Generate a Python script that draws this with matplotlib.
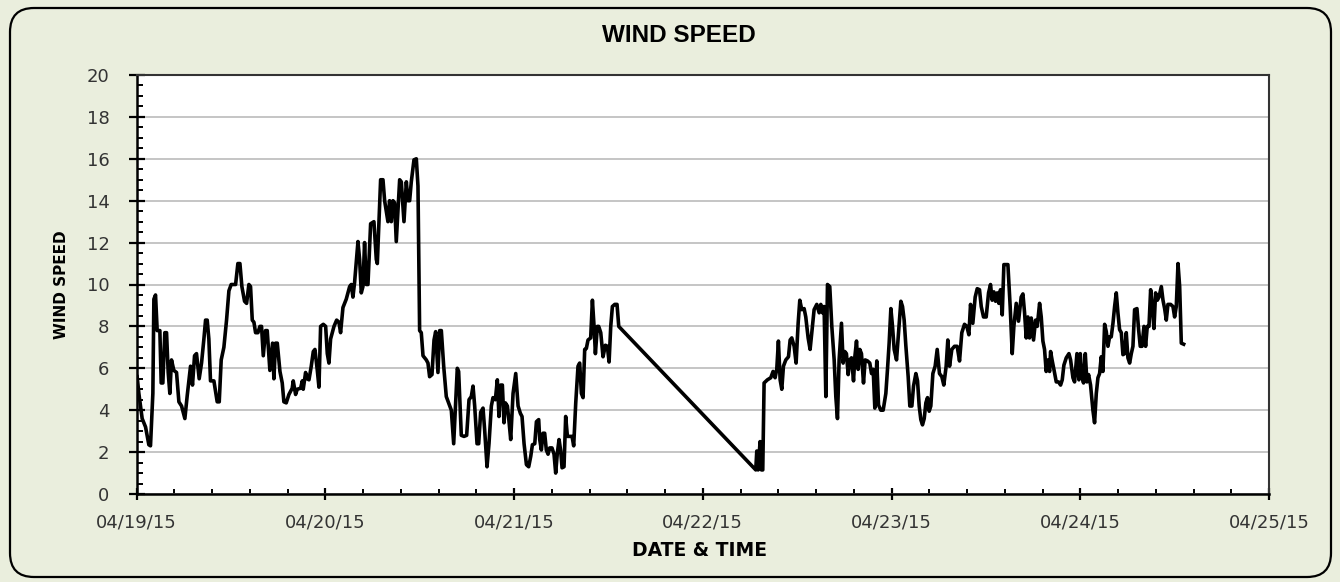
import numpy as np
import pandas as pd
import matplotlib
matplotlib.use("Agg")
import matplotlib.pyplot as plt
import matplotlib.dates as mdates
from matplotlib.ticker import MultipleLocator
from matplotlib.patches import FancyBboxPatch
from matplotlib.transforms import IdentityTransform

# hours after 04/19/15 00:00 and wind speed
hours = [
    0.08, 0.30, 0.72, 1.15, 1.57, 1.78, 2.08, 2.21, 2.42, 2.63, 2.97, 3.14, 3.35, 3.60, 3.82,
    4.03, 4.24, 4.45, 4.75, 5.09, 5.39, 5.73, 6.15, 6.45, 6.87, 7.12, 7.38, 7.63, 7.97, 8.27,
    8.57, 8.78, 8.99, 9.20, 9.41, 9.84, 10.26, 10.52, 10.77, 11.11, 11.45, 11.75, 12.04, 12.60,
    12.89, 13.15, 13.40, 13.74, 14.00, 14.29, 14.50, 14.72, 14.93, 15.14, 15.44, 15.69, 15.90,
    16.12, 16.41, 16.62, 16.96, 17.30, 17.47, 17.68, 17.90, 18.24, 18.53, 18.74, 19.04, 19.38,
    19.80, 19.93, 20.23, 20.44, 20.87, 21.08, 21.20, 21.50, 21.71, 21.93, 22.22, 22.48, 22.69,
    22.99, 23.20, 23.41, 23.75, 24.05, 24.26, 24.47, 24.68, 25.11, 25.45, 25.74, 25.95,
    26.25, 26.67, 27.10, 27.31, 27.52, 27.73, 28.16, 28.37, 28.58, 28.79, 29.00, 29.22, 29.43,
    29.77, 30.19, 30.49, 30.62, 31.04, 31.34, 31.55, 31.97, 32.18, 32.40, 32.61, 32.82, 33.03,
    33.46, 33.67, 34.01, 34.31, 34.52, 34.73, 34.94, 35.28, 35.58, 35.79, 36.00, 36.21, 36.43,
    36.85, 37.06, 37.27, 37.57, 37.83, 38.04, 38.33, 38.55, 38.76, 39.06, 39.39, 39.69, 40.03,
    40.33, 40.54, 40.79, 40.96, 41.30, 41.64, 41.98, 42.28, 42.57, 42.79, 43.00, 43.30, 43.51,
    43.76, 44.06, 44.27, 44.57, 44.82, 45.12, 45.33, 45.63, 45.88, 46.09, 46.31, 46.52, 46.73,
    46.90, 47.16, 47.37, 47.58, 47.88, 48.22, 48.52, 48.81, 49.02, 49.28, 49.58, 49.87, 50.13,
    50.34, 50.64, 50.85, 51.14,
    51.27, 51.48, 51.69, 51.90, 52.11, 52.33, 52.54, 52.83, 53.09, 53.30, 53.51, 53.73, 53.94,
    54.11, 54.36, 54.57, 54.79, 55.08, 55.38, 55.59, 55.85, 56.14, 56.35, 56.57, 56.78, 56.99,
    57.20, 57.41, 57.75, 57.97, 58.18, 58.35, 58.60, 58.77, 59.03, 59.32, 59.62, 59.87, 60.09,
    60.30, 60.51, 60.81, 61.10, 61.32,
    78.74, 78.87, 79.04, 79.29, 79.46, 79.63, 79.80, 80.22, 80.65, 80.94, 81.20, 81.41, 81.62,
    81.84, 82.05, 82.26, 82.56, 82.90, 83.11, 83.32, 83.62, 83.87, 84.13, 84.34, 84.59, 84.89,
    85.10, 85.40, 85.65, 85.86, 86.16, 86.50, 86.80, 87.01, 87.22, 87.43, 87.65, 87.86, 88.15,
    88.41, 88.71, 88.92, 89.13, 89.34, 89.64, 89.85, 90.06, 90.27, 90.49, 90.70, 90.91, 91.17,
    91.34, 91.55, 91.76, 91.97, 92.18, 92.44, 92.65, 92.95, 93.24, 93.46, 93.67, 93.88, 94.13,
    94.35, 94.64, 94.94, 95.28, 95.49, 95.70, 95.92, 96.13, 96.34, 96.64, 96.89, 97.19, 97.40,
    97.61, 97.82, 98.12, 98.33, 98.59, 98.80, 99.10, 99.31, 99.52, 99.73, 99.94, 100.16,
    100.37, 100.58, 100.79, 101.00,
    101.26, 101.55, 101.81, 102.10, 102.40, 102.65, 102.95, 103.16, 103.38, 103.67, 104.01,
    104.35, 104.65, 104.94, 105.28, 105.58, 105.84, 106.05, 106.34, 106.64, 106.90, 107.19,
    107.41, 107.70, 108.04, 108.34, 108.59, 108.80, 109.02, 109.23, 109.44, 109.65, 109.86,
    110.08, 110.29, 110.80, 111.09, 111.35, 111.56, 111.86, 112.15, 112.49, 112.71, 112.92,
    113.13, 113.34, 113.55, 113.77, 114.06, 114.32, 114.53, 114.83, 115.04, 115.25, 115.46,
    115.67, 115.89, 116.10, 116.23, 116.44, 116.65, 116.95, 117.24, 117.50, 117.71, 117.92,
    118.22, 118.56, 118.77, 119.07, 119.28, 119.58, 119.83, 120.00, 120.21, 120.42, 120.64,
    120.85, 121.06, 121.31, 121.61, 121.82, 122.04, 122.25, 122.46, 122.67, 122.88, 123.10,
    123.31, 123.52, 123.73, 123.94, 124.16, 124.37, 124.58, 124.79, 125.00, 125.22, 125.43,
    125.64, 125.85, 126.06, 126.28, 126.49, 126.70, 126.91, 127.21, 127.42, 127.63, 127.85,
    128.10, 128.31, 128.52, 128.74, 128.95, 129.16, 129.37, 129.58, 129.80, 130.01, 130.31,
    130.52, 130.73, 130.94, 131.15, 131.49, 131.79, 132.00, 132.21, 132.43, 132.64, 132.85,
    133.15,
]
speed = [
    5.6, 4.8, 3.6, 3.2, 2.35, 2.3, 4.8, 9.3, 9.5, 7.8, 7.8, 5.3, 5.3, 7.7, 7.7,
    5.8, 4.8, 6.4, 5.9, 5.8, 4.4, 4.2, 3.6, 4.7, 6.1, 5.2, 6.6, 6.7, 5.5, 6.25,
    7.4, 8.3, 8.3, 7.4, 5.4, 5.4, 4.4, 4.4, 6.4, 7.0, 8.3, 9.7, 10.0, 10.0,
    11.0, 11.0, 9.9, 9.2, 9.1, 10.0, 9.9, 8.3, 8.2, 7.7, 7.7, 8.0, 8.0,
    6.6, 7.8, 7.8, 5.9, 7.2, 5.5, 7.2, 7.2, 5.85, 5.3, 4.4, 4.35, 4.75,
    5.05, 5.4, 4.75, 5.0, 5.05, 5.4, 5.0, 5.8, 5.5, 5.45, 6.1, 6.8, 6.9,
    5.9, 5.1, 8.0, 8.1, 8.0, 6.7, 6.25, 7.4, 8.0, 8.3, 8.2, 7.7,
    8.9, 9.3, 9.9, 10.0, 9.4, 10.1, 12.05, 11.2, 9.6, 9.9, 12.0, 10.0, 10.0,
    12.9, 13.0, 11.2, 11.0, 15.0, 15.0, 14.0, 13.0, 14.0, 13.0, 14.0, 13.9, 12.05,
    15.0, 14.9, 13.0, 14.9, 14.0, 14.0, 14.9, 15.95, 16.0, 14.7, 7.8, 7.7, 6.6,
    6.4, 6.25, 5.6, 5.7, 7.35, 7.75, 5.8, 7.8, 7.8, 6.1, 4.65, 4.35, 4.0,
    2.4, 4.0, 6.0, 5.85, 2.8, 2.75, 2.8, 4.5, 4.65, 5.15, 4.2, 2.4, 2.4,
    3.9, 4.1, 3.05, 1.3, 2.4, 4.2, 4.6, 4.5, 5.45, 3.7, 5.2, 5.2, 3.4,
    4.35, 4.2, 3.45, 2.6, 4.8, 5.75, 4.2, 3.85, 3.7, 2.4, 1.4, 1.3, 1.8,
    2.35, 2.4, 3.45, 3.55,
    2.6, 2.1, 2.9, 2.9, 2.1, 1.9, 2.2, 2.2, 1.9, 1.0, 1.95, 2.6, 2.05,
    1.25, 1.3, 3.7, 2.75, 2.75, 2.75, 2.3, 4.35, 6.1, 6.25, 4.8, 4.6, 6.9,
    6.95, 7.35, 7.45, 9.25, 8.0, 6.7, 8.0, 8.0, 7.7, 6.55, 7.1, 7.05, 6.3,
    8.0, 8.95, 9.05, 9.05, 8.0,
    1.15, 2.05, 1.15, 2.5, 1.15, 1.15, 5.3, 5.45, 5.55, 5.85, 5.55, 5.95, 7.3,
    5.45, 5.0, 6.1, 6.4, 6.55, 7.35, 7.45, 7.05, 6.25, 8.15, 9.25, 8.8, 8.85,
    8.45, 7.45, 6.9, 7.7, 8.8, 9.05, 8.65, 9.05, 8.65, 8.95, 4.65, 10.0, 9.9,
    8.0, 6.4, 4.65, 3.6, 6.4, 8.15, 6.25, 6.8, 6.7, 5.7, 6.4, 6.5, 5.4,
    6.55, 7.3, 5.95, 6.9, 6.7, 5.3, 6.4, 6.35, 6.25, 5.75, 5.95, 4.1, 6.35,
    4.25, 4.0, 4.0, 4.8, 5.95, 7.2, 8.85, 8.0, 6.9, 6.4, 7.7, 9.2, 8.95,
    8.3, 7.1, 5.6, 4.2, 4.2, 5.15, 5.75, 5.4, 4.2, 3.55, 3.3, 3.6,
    4.35, 4.6, 3.95, 4.2,
    5.75, 6.1, 6.9, 5.75, 5.6, 5.2, 6.1, 7.35, 6.1, 6.9, 7.05,
    7.05, 6.35, 7.7, 8.1, 8.0, 7.6, 9.05, 8.15, 9.4, 9.8, 9.75,
    8.95, 8.45, 8.45, 9.6, 10.0, 9.25, 9.65, 9.2, 9.6, 9.1, 9.75,
    8.55, 10.95, 10.95, 8.95, 6.7, 8.0, 9.1, 8.25, 9.4, 9.55, 8.65,
    7.45, 8.45, 7.45, 8.4, 7.35, 8.3, 8.0, 9.1, 8.45, 7.3, 6.9,
    5.85, 6.4, 5.85, 6.8, 6.35, 5.95, 5.35, 5.35, 5.2, 5.45, 6.15,
    6.5, 6.7, 6.4, 5.55, 5.35, 6.7, 5.45, 6.7, 5.6, 5.3, 6.7,
    5.35, 5.7, 5.2, 4.0, 3.4, 4.8, 5.55, 5.75, 6.55, 5.85, 8.1,
    7.75, 7.05, 7.5, 7.5, 8.15, 8.95, 9.6, 8.65, 7.85, 7.7, 6.65,
    6.7, 7.7, 6.5, 6.25, 6.7, 7.05, 8.8, 8.85, 7.85, 7.05, 7.05,
    8.0, 7.05, 8.0, 8.0, 9.75, 8.95, 7.9, 9.6, 9.25, 9.4, 9.9,
    9.25, 8.85, 8.3, 9.05, 9.05, 8.95, 8.45, 8.95, 11.0, 9.9, 7.2,
    7.15,
]

start = pd.Timestamp("2015-04-19")
end = pd.Timestamp("2015-04-25")
y_ticks = [0, 2, 4, 6, 8, 10, 12, 14, 16, 18, 20]

bg = "#EAEEDD"
txt = "#333333"

times = start + pd.to_timedelta(hours, unit="h")

fig = plt.figure(figsize=(13.4, 5.82), dpi=100, facecolor=bg)

# rounded chart border (pixel coords), kept behind the axes
border = FancyBboxPatch((10, 5), 1321, 569, boxstyle="round,pad=0,rounding_size=24",
                        transform=IdentityTransform(), facecolor=bg, edgecolor="black",
                        linewidth=1.6, zorder=-10)
fig.patches.append(border)

ax = fig.add_axes([136.5 / 1340, 1 - 494 / 582, (1269 - 136.5) / 1340, (494 - 75) / 582])
ax.set_zorder(5)
ax.set_facecolor("white")

ax.plot(times, speed, color="black", linewidth=2.6, solid_joinstyle="round", zorder=3)

ax.set_xlim(start, end)
ax.set_ylim(0, 20)
ax.set_yticks(y_ticks)
ax.yaxis.set_minor_locator(MultipleLocator(0.5))
ax.xaxis.set_major_locator(mdates.DayLocator())
ax.xaxis.set_major_formatter(mdates.DateFormatter("%m/%d/%y"))
ax.xaxis.set_minor_locator(MultipleLocator(0.2))

ax.grid(axis="y", which="major", color="#BBBBBB", linewidth=1.2, zorder=1)

for side in ["left", "bottom"]:
    ax.spines[side].set_color("black")
    ax.spines[side].set_linewidth(1.8)
for side in ["top", "right"]:
    ax.spines[side].set_color("#333333")
    ax.spines[side].set_linewidth(1.5)

ax.tick_params(axis="y", which="major", direction="inout", length=11, width=1.6,
               color="black", pad=14, labelsize=13, labelcolor=txt)
ax.tick_params(axis="y", which="minor", direction="in", length=4.5, width=1.4, color="black")
ax.tick_params(axis="x", which="major", direction="inout", length=8, width=1.6,
               color="black", pad=10, labelsize=13, labelcolor=txt)
ax.tick_params(axis="x", which="minor", direction="in", length=3.5, width=1.4, color="black")

fig.text(679 / 1340, 1 - 36 / 582, "WIND SPEED", ha="center", va="center",
         fontsize=17.5, fontweight="bold", family="Liberation Sans", color="black")
fig.text(700 / 1340, 1 - 550 / 582, "DATE & TIME", ha="center", va="center",
         fontsize=13.5, fontweight="bold", color="black")
fig.text(61 / 1340, 1 - 285 / 582, "WIND SPEED", ha="center", va="center", rotation=90,
         fontsize=11, fontweight="bold", color="black")

fig.savefig("out.png", dpi=100, facecolor=bg)
